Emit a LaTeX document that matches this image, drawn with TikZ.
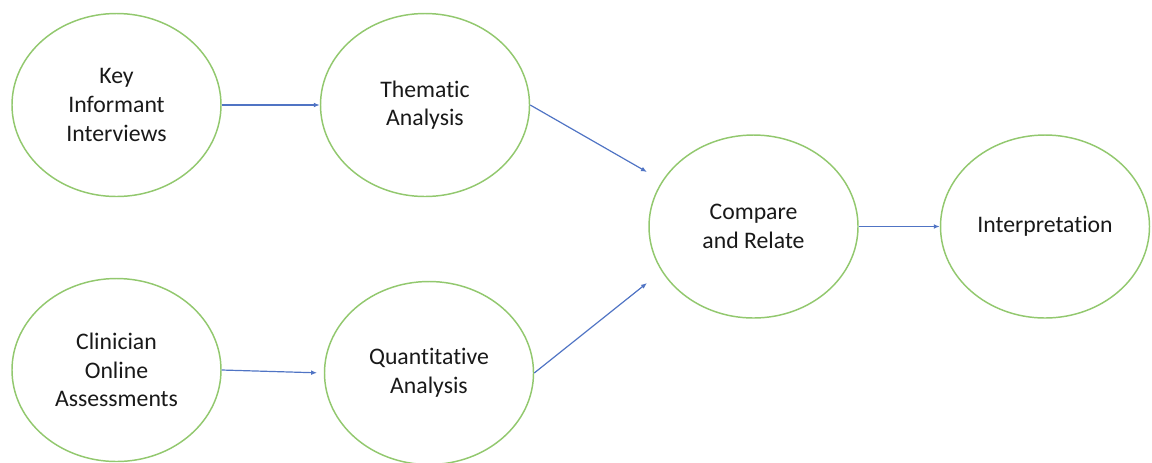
\documentclass[tikz,border=0pt]{standalone}
\usepackage{fontspec}
\setmainfont{Carlito}[Ligatures=NoCommon]
\usetikzlibrary{shapes.geometric,arrows.meta}
\definecolor{ringgreen}{RGB}{146,200,110}
\definecolor{arrowblue}{RGB}{80,116,196}
\begin{document}
\begin{tikzpicture}[x=0.75pt,y=-0.75pt,
  stage/.style={ellipse,draw=ringgreen,line width=1.1pt,fill=white,
    minimum width=156.75pt,minimum height=137.25pt,inner sep=0pt,
    align=center,text=black!90,font=\fontsize{17.8pt}{21.5pt}\selectfont},
  flow/.style={draw=arrowblue,line width=0.9pt,-{Latex[length=4.5pt,width=3.6pt]}}]
\useasboundingbox (0,0) rectangle (1152,462);
\node[stage] (key)    at (116.5,105)   {Key\\Informant\\Interviews};
\node[stage] (them)   at (425,105)     {Thematic\\Analysis};
\node[stage] (clin)   at (116.5,370)   {Clinician\\Online\\Assessments};
\node[stage] (quant)  at (429,373)     {Quantitative\\Analysis};
\node[stage] (cmp)    at (753.5,226.5) {Compare\\and Relate};
\node[stage] (interp) at (1045,226.5)  {Interpretation};
\coordinate (cmpin1) at (647,172);
\coordinate (cmpin2) at (647,283);
\draw[flow] (key.east) -- (them.west);
\draw[flow,shorten >=5pt] (clin.east) -- (quant.west);
\draw[flow] (them.east) -- (cmpin1);
\draw[flow] (quant.east) -- (cmpin2);
\draw[flow] (cmp.east) -- (interp.west);
\end{tikzpicture}
\end{document}
